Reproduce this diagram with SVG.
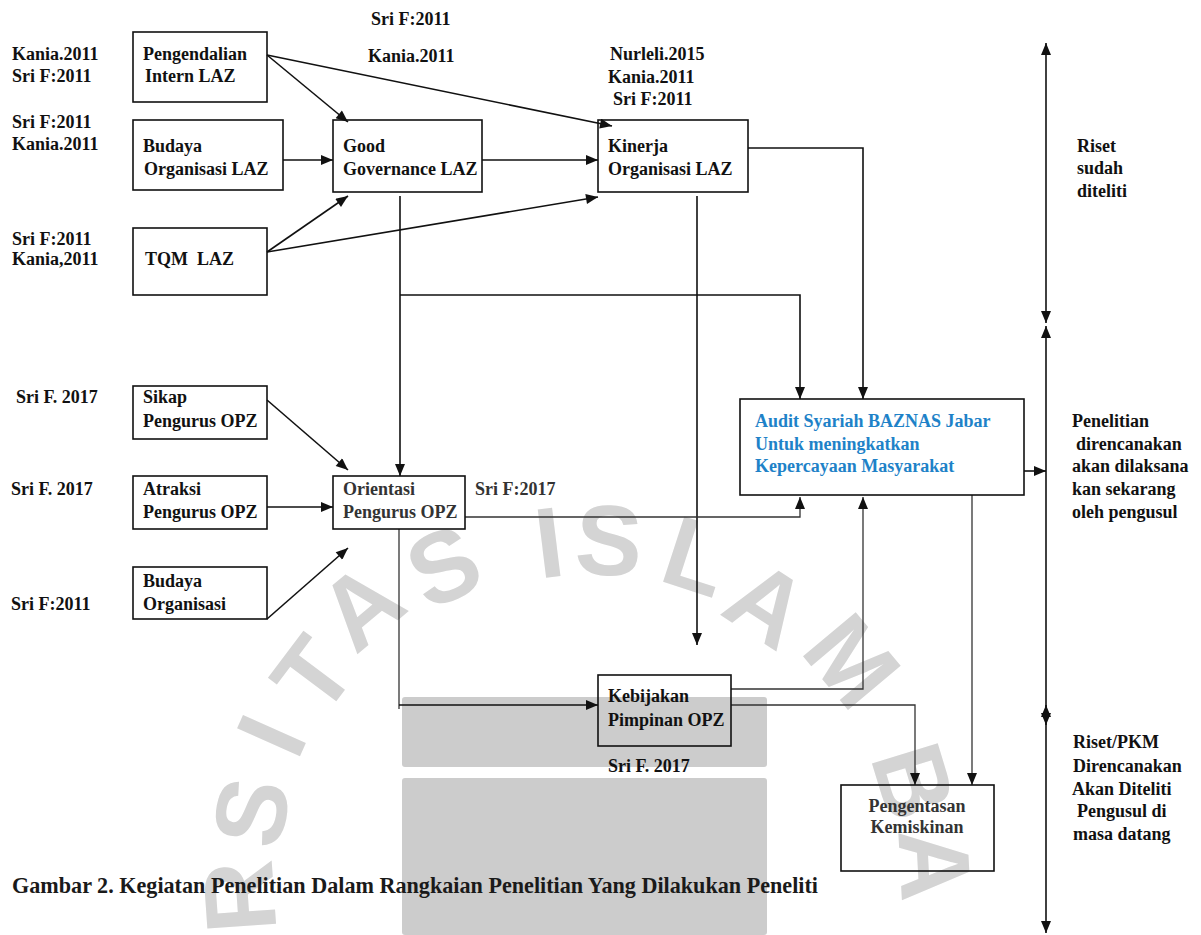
<svg xmlns="http://www.w3.org/2000/svg" width="1201" height="935" viewBox="0 0 1201 935">
<style>
.t{font-family:"Liberation Serif","Times New Roman",serif;font-weight:bold;font-size:18px;fill:#111}
.g{fill:#333}
.blue{fill:#1e82c8}
.box{fill:none;stroke:#111;stroke-width:1.6}
.ln{fill:none;stroke:#111;stroke-width:1.6}
.ln2{fill:none;stroke:#333;stroke-width:1.3}
.wm{font-family:"Liberation Sans",Arial,sans-serif;font-weight:bold;font-size:100px;fill:#d4d4d4;text-anchor:middle}
.cap{font-family:"Liberation Serif","Times New Roman",serif;font-weight:bold;font-size:23px;fill:#1a1a1a}
</style>
<defs>
<marker id="ah" viewBox="0 0 12 10" refX="12" refY="5" markerWidth="13" markerHeight="10" markerUnits="userSpaceOnUse" orient="auto-start-reverse"><path d="M0,0 L12,5 L0,10 z" fill="#111"/></marker>
</defs>
<rect width="1201" height="935" fill="#fff"/>
<g id="watermark">
<rect x="402" y="697" width="365" height="70" rx="3" fill="#cccccc"/>
<rect x="402" y="778" width="365" height="157" rx="3" fill="#cccccc"/>
<text class="wm" x="238" y="933" transform="rotate(-94 238 897)">R</text>
<text class="wm" x="250" y="848" transform="rotate(-79 250 812)">S</text>
<text class="wm" x="270" y="771" transform="rotate(-66 270 735)">I</text>
<text class="wm" x="312" y="710" transform="rotate(-53 312 674)">T</text>
<text class="wm" x="360" y="641" transform="rotate(-40 360 605)">A</text>
<text class="wm" x="443" y="601" transform="rotate(-25 443 565)">S</text>
<text class="wm" x="549" y="577" transform="rotate(-7 549 541)">I</text>
<text class="wm" x="609" y="575" transform="rotate(3 609 539)">S</text>
<text class="wm" x="697" y="591" transform="rotate(18 697 555)">L</text>
<text class="wm" x="768" y="639" transform="rotate(33 768 603)">A</text>
<text class="wm" x="853" y="696" transform="rotate(50 853 660)">M</text>
<text class="wm" x="915" y="817" transform="rotate(73 915 781)">B</text>
<text class="wm" x="936" y="901" transform="rotate(87 936 865)">A</text>
</g>
<g id="connectors">
<line class="ln" x1="267" y1="55" x2="348" y2="122" marker-end="url(#ah)"/>
<line class="ln" x1="267" y1="55" x2="612" y2="126" marker-end="url(#ah)"/>
<line class="ln" x1="283" y1="160" x2="333" y2="160" marker-end="url(#ah)"/>
<line class="ln" x1="267" y1="252" x2="348" y2="196" marker-end="url(#ah)"/>
<line class="ln" x1="267" y1="252" x2="598" y2="197" marker-end="url(#ah)"/>
<line class="ln" x1="482" y1="160" x2="598" y2="160" marker-end="url(#ah)"/>
<line class="ln" x1="400" y1="196" x2="400" y2="476" marker-end="url(#ah)"/>
<polyline class="ln" points="400,295 800,295 800,399" marker-end="url(#ah)"/>
<polyline class="ln" points="748,148 863,148 863,399" marker-end="url(#ah)"/>
<line class="ln" x1="697" y1="196" x2="697" y2="645" marker-end="url(#ah)"/>
<line class="ln" x1="267" y1="400" x2="348" y2="470" marker-end="url(#ah)"/>
<line class="ln" x1="267" y1="507" x2="333" y2="507" marker-end="url(#ah)"/>
<line class="ln" x1="267" y1="619" x2="348" y2="548" marker-end="url(#ah)"/>
<polyline class="ln2" points="465,517 800,517 800,497" marker-end="url(#ah)"/>
<line class="ln2" x1="399" y1="529" x2="399" y2="709"/>
<line class="ln" x1="399" y1="705" x2="598" y2="705" marker-end="url(#ah)"/>
<polyline class="ln2" points="731,689 863,689 863,497" marker-end="url(#ah)"/>
<polyline class="ln2" points="731,705 915,705 915,785" marker-end="url(#ah)"/>
<line class="ln2" x1="972" y1="495" x2="972" y2="785" marker-end="url(#ah)"/>
<line class="ln" x1="1024" y1="471" x2="1046" y2="471" marker-end="url(#ah)"/>
<line class="ln" x1="1046" y1="43" x2="1046" y2="323" marker-start="url(#ah)" marker-end="url(#ah)"/>
<line class="ln" x1="1046" y1="326" x2="1046" y2="725" marker-start="url(#ah)" marker-end="url(#ah)"/>
<line class="ln" x1="1046" y1="705" x2="1046" y2="933" marker-start="url(#ah)" marker-end="url(#ah)"/>
</g>
<g id="refs">
<text class="t" x="371" y="25">Sri F:2011</text>
<text class="t" x="368" y="62">Kania.2011</text>
<text class="t" x="12" y="60">Kania.2011</text>
<text class="t" x="12" y="82">Sri F:2011</text>
<text class="t" x="12" y="128">Sri F:2011</text>
<text class="t" x="12" y="150">Kania.2011</text>
<text class="t" x="12" y="245">Sri F:2011</text>
<text class="t" x="12" y="265">Kania,2011</text>
<text class="t" x="610" y="60">Nurleli.2015</text>
<text class="t" x="608" y="83">Kania.2011</text>
<text class="t" x="613" y="105">Sri F:2011</text>
<text class="t" x="16" y="403">Sri F. 2017</text>
<text class="t" x="11" y="495">Sri F. 2017</text>
<text class="t" x="11" y="610">Sri F:2011</text>
<text class="t g" x="475" y="495">Sri F:2017</text>
<text class="t" x="608" y="772">Sri F. 2017</text>
</g>
<g id="n-pengendalian">
<rect class="box" x="133" y="32" width="134" height="70"/>
<text class="t" x="143" y="60">Pengendalian</text>
<text class="t" x="145" y="82">Intern LAZ</text>
</g>
<g id="n-budaya-laz">
<rect class="box" x="133" y="120" width="150" height="70"/>
<text class="t" x="143" y="152">Budaya</text>
<text class="t" x="144" y="175">Organisasi LAZ</text>
</g>
<g id="n-good">
<rect class="box" x="333" y="120" width="149" height="72"/>
<text class="t" x="343" y="152">Good</text>
<text class="t" x="343" y="175">Governance LAZ</text>
</g>
<g id="n-kinerja">
<rect class="box" x="598" y="120" width="150" height="72"/>
<text class="t" x="608" y="152">Kinerja</text>
<text class="t" x="608" y="175">Organisasi LAZ</text>
</g>
<g id="n-tqm">
<rect class="box" x="133" y="228" width="134" height="67"/>
<text class="t" x="145" y="265" xml:space="preserve">TQM  LAZ</text>
</g>
<g id="n-sikap">
<rect class="box" x="133" y="386" width="134" height="53"/>
<text class="t" x="143" y="403">Sikap</text>
<text class="t" x="143" y="427">Pengurus OPZ</text>
</g>
<g id="n-atraksi">
<rect class="box" x="133" y="476" width="134" height="53"/>
<text class="t" x="143" y="495">Atraksi</text>
<text class="t" x="143" y="518">Pengurus OPZ</text>
</g>
<g id="n-orientasi">
<rect class="box" x="333" y="476" width="132" height="53"/>
<text class="t g" x="343" y="495">Orientasi</text>
<text class="t g" x="343" y="518">Pengurus OPZ</text>
</g>
<g id="n-budaya-org">
<rect class="box" x="133" y="567" width="134" height="52"/>
<text class="t" x="143" y="587">Budaya</text>
<text class="t" x="143" y="610">Organisasi</text>
</g>
<g id="n-audit">
<rect class="box" x="740" y="399" width="284" height="96"/>
<text class="t blue" x="755" y="427">Audit Syariah BAZNAS Jabar</text>
<text class="t blue" x="755" y="450">Untuk meningkatkan</text>
<text class="t blue" x="755" y="472">Kepercayaan Masyarakat</text>
</g>
<g id="n-kebijakan">
<rect class="box" x="598" y="675" width="133" height="71"/>
<text class="t" x="608" y="702">Kebijakan</text>
<text class="t" x="608" y="726">Pimpinan OPZ</text>
</g>
<g id="n-pengentasan">
<rect class="box" x="841" y="785" width="153" height="86"/>
<text class="t g" x="917" y="812" text-anchor="middle">Pengentasan</text>
<text class="t g" x="917" y="833" text-anchor="middle">Kemiskinan</text>
</g>
<g id="side-labels">
<text class="t" x="1077" y="152">Riset</text>
<text class="t" x="1077" y="174">sudah</text>
<text class="t" x="1077" y="197">diteliti</text>
<text class="t" x="1072" y="427">Penelitian</text>
<text class="t" x="1076" y="450">direncanakan</text>
<text class="t" x="1072" y="472">akan dilaksana</text>
<text class="t" x="1072" y="495">kan sekarang</text>
<text class="t" x="1072" y="518">oleh pengusul</text>
<text class="t" x="1073" y="748">Riset/PKM</text>
<text class="t" x="1073" y="772">Direncanakan</text>
<text class="t" x="1072" y="795">Akan Diteliti</text>
<text class="t" x="1077" y="817">Pengusul di</text>
<text class="t" x="1073" y="840">masa datang</text>
</g>
<g id="caption">
<text class="cap" x="12" y="893" textLength="806" lengthAdjust="spacingAndGlyphs">Gambar 2. Kegiatan Penelitian Dalam Rangkaian Penelitian Yang Dilakukan Peneliti</text>
</g>
</svg>
